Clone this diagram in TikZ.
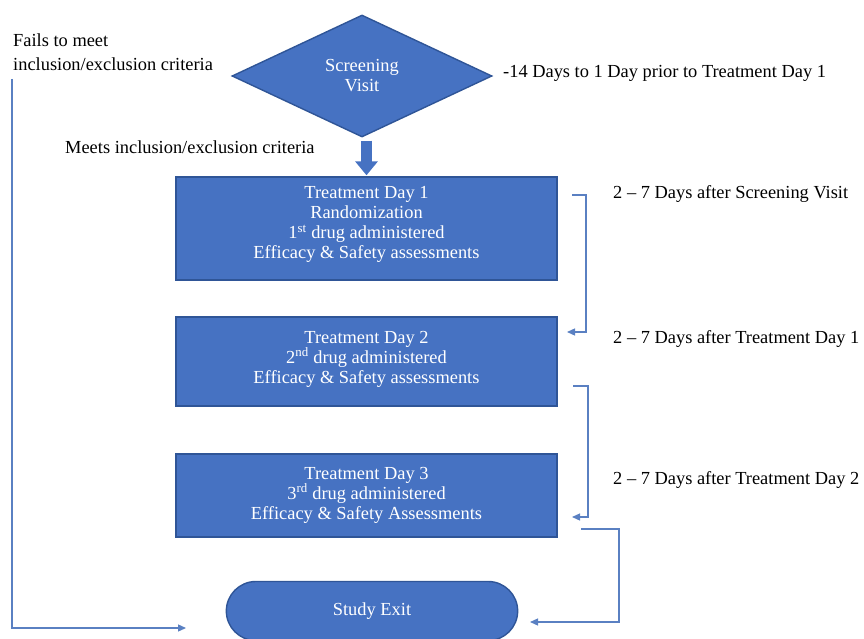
\documentclass[tikz,border=0pt]{standalone}
\usepackage{fontspec}
\setmainfont{Liberation Serif}
\usepackage{tikz}
\usetikzlibrary{arrows.meta,shapes.geometric,shapes.misc}

\definecolor{boxblue}{HTML}{4672C2}
\definecolor{edgeblue}{HTML}{2F5597}
\definecolor{linkblue}{HTML}{5A80C2}

\tikzset{
  every node/.style={font=\fontsize{18.4pt}{20pt}\selectfont},
  plain/.style={anchor=west,inner sep=0pt,align=left},
  visitbox/.style={draw=edgeblue,line width=1.4pt,fill=boxblue,text=white,
    minimum width=381pt,align=center,inner sep=0pt},
  link/.style={draw=linkblue,line width=1.3pt,-{Triangle[length=8pt,width=7pt]}},
  bigarrow/.style={draw=boxblue,line width=11pt,-{Triangle[length=14pt,width=22pt]}}
}

\begin{document}
\begin{tikzpicture}[x=1pt,y=-1pt]
    \useasboundingbox (0,0) rectangle (864,639);

    \node[plain,font=\fontsize{18.4pt}{24pt}\selectfont] (fails) at (13,52) {Fails to meet\\inclusion/exclusion criteria};
    \node[diamond,draw=edgeblue,line width=1.4pt,fill=boxblue,text=white,align=center,
      minimum width=260pt,minimum height=122pt,aspect=2.1,inner sep=0pt] (screen) at (362,76) {Screening\\Visit};
    \node[plain] (prior) at (503,73) {-14 Days to 1 Day prior to Treatment Day 1};
    \node[plain] (meets) at (65,147) {Meets inclusion/exclusion criteria};

    \node[visitbox,minimum height=103pt] (day1) at (366.5,228.5)
      {Treatment Day 1\\Randomization\\1\textsuperscript{st} drug administered\\Efficacy \& Safety assessments\\[-8pt]};
    \node[visitbox,minimum height=89pt] (day2) at (366.5,361.5)
      {Treatment Day 2\\2\textsuperscript{nd} drug administered\\Efficacy \& Safety assessments\\[-11pt]};
    \node[visitbox,minimum height=83pt] (day3) at (366.5,495.5)
      {Treatment Day 3\\3\textsuperscript{rd} drug administered\\Efficacy \& Safety Assessments\\[-15pt]};
    \node[rounded rectangle,draw=edgeblue,line width=1.4pt,fill=boxblue,text=white,
      minimum width=298pt,minimum height=59pt] (exit) at (372,611) {Study Exit};

    \node[plain] (gap1) at (613,194) {2 -- 7 Days after Screening Visit};
    \node[plain] (gap2) at (613,339) {2 -- 7 Days after Treatment Day 1};
    \node[plain] (gap3) at (613,480) {2 -- 7 Days after Treatment Day 2};

    \draw[bigarrow,shorten <=3pt,shorten >=1pt] (day1.north |- screen.south) -- (day1.north);

    \coordinate (b1s) at (572,195);
    \coordinate (b1e) at (567,332);
    \coordinate (b2s) at (573,386);
    \coordinate (b2e) at (572,517);
    \coordinate (b3s) at (581,529);
    \coordinate (b3e) at (530,622);
    \coordinate (fs) at (12,79);
    \coordinate (fe) at (186,628);

    \draw[link] (b1s) -| ([xshift=19pt]b1e) -- (b1e);
    \draw[link] (b2s) -| ([xshift=16pt]b2e) -- (b2e);
    \draw[link] (b3s) -| ([xshift=89pt]b3e) -- (b3e);
    \draw[link] (fs) |- (fe);
\end{tikzpicture}
\end{document}
